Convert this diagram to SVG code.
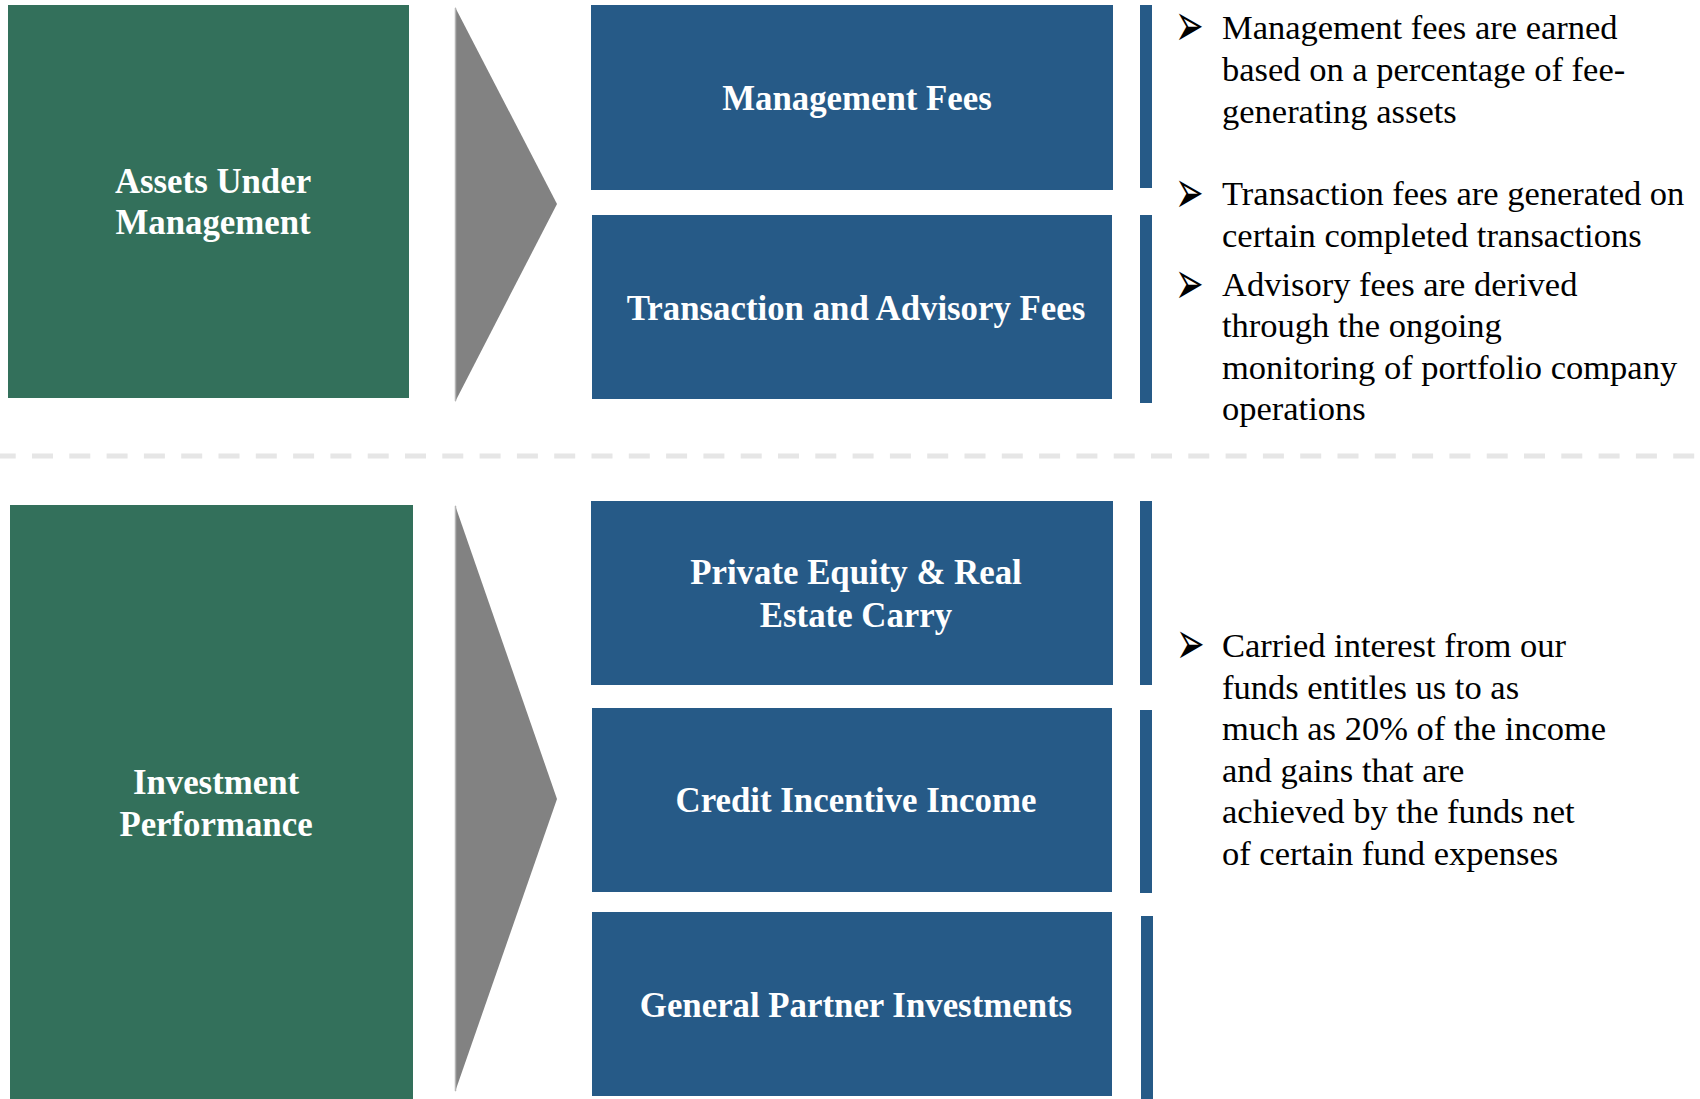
<svg xmlns="http://www.w3.org/2000/svg" width="1700" height="1099" viewBox="0 0 1700 1099">
<style>
.green{fill:#33705b}
.blue{fill:#265a87}
.bar{fill:#265a87}
.chev{fill:#828282}
.chevedge{stroke:#b5b5b5;stroke-width:1.5;fill:none}
.lbl{font-family:"Liberation Serif","Times New Roman",serif;font-weight:bold;font-size:34.8px;fill:#ffffff;text-anchor:middle}
.txt{font-family:"Liberation Serif","Times New Roman",serif;font-size:34.5px;fill:#000000}
.bul{font-family:"DejaVu Sans",sans-serif;font-size:36px;fill:#000000}
.sep{stroke:#e6e6e6;stroke-width:5;stroke-dasharray:21 16.3;stroke-dashoffset:5.3;fill:none}
</style>
<rect width="1700" height="1099" fill="#ffffff"/>
<g id="connectors">
<polygon class="chev" points="455,7 557,204 455,402"/>
<line class="chevedge" x1="455.5" y1="8" x2="455.5" y2="401"/>
<polygon class="chev" points="455,505 557,799 455,1092"/>
<line class="chevedge" x1="455.5" y1="506" x2="455.5" y2="1091"/>
</g>
<line class="sep" x1="0" y1="456" x2="1700" y2="456"/>
<g id="aum">
<rect class="green" x="8" y="5" width="401" height="393"/>
<text class="lbl" x="213" y="193">Assets Under</text>
<text class="lbl" x="213" y="234">Management</text>
</g>
<g id="invperf">
<rect class="green" x="10" y="505" width="403" height="594"/>
<text class="lbl" x="216" y="794">Investment</text>
<text class="lbl" x="216" y="836">Performance</text>
</g>
<g id="mgmtfees">
<rect class="blue" x="591" y="5" width="522" height="185"/>
<text class="lbl" x="857" y="110">Management Fees</text>
</g>
<g id="txfees">
<rect class="blue" x="592" y="215" width="520" height="184"/>
<text class="lbl" x="856" y="320">Transaction and Advisory Fees</text>
</g>
<g id="pecarry">
<rect class="blue" x="591" y="501" width="522" height="184"/>
<text class="lbl" x="856" y="584">Private Equity &amp; Real</text>
<text class="lbl" x="856" y="627">Estate Carry</text>
</g>
<g id="credit">
<rect class="blue" x="592" y="708" width="520" height="184"/>
<text class="lbl" x="856" y="812">Credit Incentive Income</text>
</g>
<g id="gpinv">
<rect class="blue" x="592" y="912" width="520" height="184"/>
<text class="lbl" x="856" y="1017">General Partner Investments</text>
</g>
<g id="bars">
<rect class="bar" x="1140" y="5" width="12" height="183"/>
<rect class="bar" x="1140" y="215" width="12" height="188"/>
<rect class="bar" x="1140" y="501" width="12" height="184"/>
<rect class="bar" x="1140" y="710" width="12" height="183"/>
<rect class="bar" x="1141" y="916" width="12" height="183"/>
</g>
<g id="notes-top">
<text class="bul" transform="translate(1175,46) scale(0.95,1.7)">➢</text>
<text class="txt" x="1222" y="39">Management fees are earned</text>
<text class="txt" x="1222" y="81">based on a percentage of fee-</text>
<text class="txt" x="1222" y="123">generating assets</text>
<text class="bul" transform="translate(1175,212.5) scale(0.95,1.7)">➢</text>
<text class="txt" x="1222" y="205">Transaction fees are generated on</text>
<text class="txt" x="1222" y="247">certain completed transactions</text>
<text class="bul" transform="translate(1175,303.5) scale(0.95,1.7)">➢</text>
<text class="txt" x="1222" y="296">Advisory fees are derived</text>
<text class="txt" x="1222" y="337">through the ongoing</text>
<text class="txt" x="1222" y="379">monitoring of portfolio company</text>
<text class="txt" x="1222" y="420">operations</text>
</g>
<g id="notes-bottom">
<text class="bul" transform="translate(1176,664) scale(0.95,1.7)">➢</text>
<text class="txt" x="1222" y="657">Carried interest from our</text>
<text class="txt" x="1222" y="699">funds entitles us to as</text>
<text class="txt" x="1222" y="740">much as 20% of the income</text>
<text class="txt" x="1222" y="782">and gains that are</text>
<text class="txt" x="1222" y="823">achieved by the funds net</text>
<text class="txt" x="1222" y="865">of certain fund expenses</text>
</g>
</svg>
